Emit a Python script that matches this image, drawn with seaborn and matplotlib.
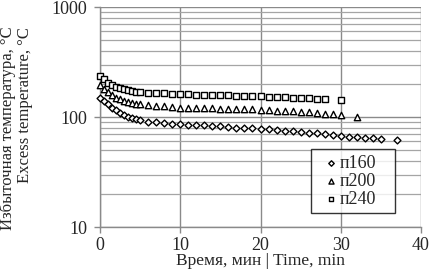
import pandas as pd
import numpy as np
import matplotlib
matplotlib.use("Agg")
import matplotlib.pyplot as plt
import seaborn as sns
from matplotlib.ticker import LogLocator, NullFormatter, FixedLocator

# Data
t_160 = [0, 0.5, 1, 1.5, 2, 2.5, 3, 3.5, 4, 4.5, 5,
         6, 7, 8, 9, 10, 11, 12, 13, 14, 15, 16, 17, 18, 19, 20,
         21, 22, 23, 24, 25, 26, 27, 28, 29, 30, 31, 32, 33, 34, 35, 37]
v_160 = [150, 140, 130, 122, 115, 109, 104, 100, 97, 95, 93,
         91, 89.5, 88, 87, 86, 85, 84.5, 84, 83, 82, 81, 80, 79.5, 79, 78,
         77, 76, 75, 74, 73, 72, 71, 70, 68.5, 67, 66, 65.5, 64.5, 64, 63, 62]

t_200 = [0, 0.5, 1, 1.5, 2, 2.5, 3, 3.5, 4, 4.5, 5,
         6, 7, 8, 9, 10, 11, 12, 13, 14, 15, 16, 17, 18, 19, 20,
         21, 22, 23, 24, 25, 26, 27, 28, 29, 30, 32]
v_200 = [195, 180, 168, 158, 150, 145, 140, 137, 134, 132, 131,
         129, 127, 125, 123, 122, 121, 120.5, 120, 119.5, 119, 118.5, 118, 117.5, 117, 116.5,
         115.5, 114.5, 113.5, 112.5, 111, 110, 108.5, 107, 105.5, 104, 101]

t_240 = [0, 0.5, 1, 1.5, 2, 2.5, 3, 3.5, 4, 4.5, 5,
         6, 7, 8, 9, 10, 11, 12, 13, 14, 15, 16, 17, 18, 19, 20,
         21, 22, 23, 24, 25, 26, 27, 28, 30]
v_240 = [236, 220, 205, 195, 188, 182, 178, 175, 172, 170, 168,
         166, 165, 164, 163, 162, 161, 160, 159, 158, 157.5, 157, 156, 155.5, 155, 154,
         153, 152, 151, 150, 149, 148, 147, 146, 143]

series_names = ["п160", "п200", "п240"]
x_ticks = [0, 10, 20, 30, 40]
y_ticks = [10, 100, 1000]

sns.set_style("white")
plt.rcParams['font.family'] = ['Liberation Serif', 'DejaVu Serif']

fig = plt.figure(figsize=(4.3, 2.71), dpi=100)
ax = fig.add_axes([100 / 430, 1 - 227 / 271, 321 / 430, 220 / 271])

grid_col = '#8a8a8a'

styles = [
    (t_160, v_160, 'D', 12),
    (t_200, v_200, '^', 21),
    (t_240, v_240, 's', 20),
]
for (tx, vy, mk, sz), name in zip(styles, series_names):
    df = pd.DataFrame({'t': tx, 'v': vy})
    sns.scatterplot(data=df, x='t', y='v', marker=mk, s=sz, facecolor='white',
                    edgecolor='black', linewidth=1.0, label=name, ax=ax,
                    clip_on=False, zorder=5)

ax.set_yscale('log')
ax.set_xlim(0, 40)
ax.set_ylim(10, 1000)
ax.xaxis.set_major_locator(FixedLocator(x_ticks))
ax.yaxis.set_major_locator(FixedLocator(y_ticks))
ax.set_yticklabels([str(v) for v in y_ticks])
ax.yaxis.set_minor_locator(LogLocator(base=10, subs=np.arange(2, 10)))
ax.yaxis.set_minor_formatter(NullFormatter())

ax.grid(True, which='major', color=grid_col, linewidth=1.0)
ax.grid(True, which='minor', axis='y', color='#a5a5a5', linewidth=0.9)
ax.set_axisbelow(True)

for side in ['top', 'right']:
    ax.spines[side].set_visible(False)
for side in ['left', 'bottom']:
    ax.spines[side].set_color(grid_col)
    ax.spines[side].set_linewidth(1.0)

ax.tick_params(axis='both', which='major', direction='out', length=4,
               color=grid_col, width=1.0, labelsize=13, pad=5,
               left=True, bottom=True)
ax.tick_params(axis='x', which='major', pad=3)
ax.tick_params(axis='y', which='minor', length=0)

ax.set_xlabel("Время, мин | Time, min", fontsize=12.5)
ax.xaxis.set_label_coords(0.5, -0.12)
ax.set_ylabel("Избыточная температура, °C\nExcess temperature, °C",
              fontsize=12, linespacing=1.1, multialignment='right')
ax.yaxis.label.set_va('center')
ax.yaxis.set_label_coords(-0.262, 0.448)

leg = ax.legend(loc='lower left', bbox_to_anchor=(0.657, 0.064, 0.262, 0.28),
                mode='expand', fontsize=13,
                frameon=True, fancybox=False, edgecolor='black',
                handletextpad=-0.3, handlelength=1.6, borderpad=0.3,
                labelspacing=0.05, markerscale=0.8, borderaxespad=0)
leg.get_frame().set_linewidth(1.0)

fig.savefig("out.png", dpi=100)
